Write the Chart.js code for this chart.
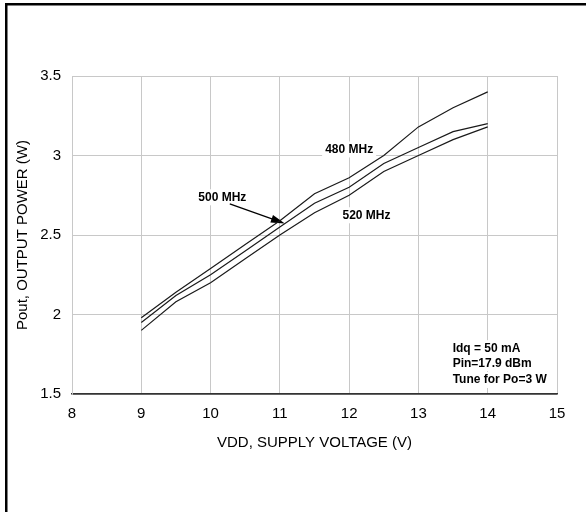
<!DOCTYPE html>
<html>
<head>
<meta charset="utf-8">
<script src="https://cdn.jsdelivr.net/npm/chart.js@4.4.1/dist/chart.umd.min.js"></script>
<style>
  html, body { margin: 0; padding: 0; background: #fff; }
  canvas { display: block; }
</style>
</head>
<body>
<canvas id="grafico" width="586" height="512"></canvas>
<script>
// Datos
const voltajes = [9, 9.5, 10, 10.5, 11, 11.5, 12, 12.5, 13, 13.5, 14];
const pout480 = [1.98, 2.14, 2.29, 2.44, 2.59, 2.76, 2.86, 3.00, 3.18, 3.30, 3.40];
const pout500 = [1.95, 2.12, 2.25, 2.40, 2.55, 2.70, 2.80, 2.95, 3.05, 3.15, 3.20];
const pout520 = [1.90, 2.08, 2.20, 2.35, 2.50, 2.64, 2.75, 2.90, 3.00, 3.10, 3.18];
const ticksX = [8, 9, 10, 11, 12, 13, 14, 15];
const ticksY = [1.5, 2, 2.5, 3, 3.5];
const notas = ['Idq = 50 mA', 'Pin=17.9 dBm', 'Tune for Po=3 W'];

const fuente = '"Liberation Sans", Arial, Helvetica, sans-serif';
const gris = '#c8c8c8';
Chart.defaults.color = '#000';
Chart.defaults.font.family = fuente;

function serie(valores) {
    return {
        data: voltajes.map((v, i) => ({ x: v, y: valores[i] })),
        borderColor: '#1a1a1a',
        borderWidth: 1.2,
        pointRadius: 0,
        tension: 0,
        fill: false
    };
}

// Textos con fondo blanco (tapan la grilla)
function textoConFondo(ctx, texto, x, y, align) {
    ctx.font = 'bold 12px ' + fuente;
    const w = ctx.measureText(texto).width;
    const x0 = align === 'left' ? x : x - w / 2;
    ctx.fillStyle = '#fff';
    ctx.fillRect(x0 - 3, y - 8, w + 6, 16);
    ctx.fillStyle = '#000';
    ctx.textAlign = 'left';
    ctx.textBaseline = 'middle';
    ctx.fillText(texto, x0, y);
}

const anotaciones = {
    id: 'anotaciones',
    beforeDatasetsDraw(chart) {
        const { ctx, scales: { x, y } } = chart;
        ctx.save();
        textoConFondo(ctx, '480 MHz', x.getPixelForValue(12.0), y.getPixelForValue(3.038), 'center');
        textoConFondo(ctx, '500 MHz', x.getPixelForValue(10.17), y.getPixelForValue(2.737), 'center');
        textoConFondo(ctx, '520 MHz', x.getPixelForValue(12.25), y.getPixelForValue(2.624), 'center');
        const ys = [1.788, 1.693, 1.588];
        notas.forEach((t, i) => textoConFondo(ctx, t, x.getPixelForValue(13.494), y.getPixelForValue(ys[i]), 'left'));

        // flecha del 500 MHz
        const x1 = x.getPixelForValue(10.277), y1 = y.getPixelForValue(2.696);
        const x2 = x.getPixelForValue(11.072), y2 = y.getPixelForValue(2.572);
        const ang = Math.atan2(y2 - y1, x2 - x1);
        ctx.strokeStyle = '#000';
        ctx.lineWidth = 1.2;
        ctx.beginPath();
        ctx.moveTo(x1, y1);
        ctx.lineTo(x2 - 10 * Math.cos(ang), y2 - 10 * Math.sin(ang));
        ctx.stroke();
        ctx.fillStyle = '#000';
        ctx.beginPath();
        ctx.moveTo(x2, y2);
        ctx.lineTo(x2 - 14 * Math.cos(ang) + 4 * Math.sin(ang), y2 - 14 * Math.sin(ang) - 4 * Math.cos(ang));
        ctx.lineTo(x2 - 14 * Math.cos(ang) - 4 * Math.sin(ang), y2 - 14 * Math.sin(ang) + 4 * Math.cos(ang));
        ctx.closePath();
        ctx.fill();
        ctx.restore();
    },
    afterDraw(chart) {
        // marco negro de la figura
        const ctx = chart.ctx;
        ctx.save();
        ctx.fillStyle = '#000';
        ctx.fillRect(5, 3, 581, 2.5);
        ctx.fillRect(5, 3, 2.5, 509);
        ctx.restore();
    }
};

new Chart(document.getElementById('grafico'), {
    type: 'line',
    data: {
        datasets: [serie(pout480), serie(pout500), serie(pout520)]
    },
    options: {
        responsive: false,
        animation: false,
        devicePixelRatio: 1,
        layout: { padding: { left: 10, right: 29, top: 76, bottom: 48 } },
        plugins: { legend: { display: false }, tooltip: { enabled: false } },
        scales: {
            x: {
                type: 'linear',
                min: ticksX[0],
                max: ticksX[ticksX.length - 1],
                afterBuildTicks: s => { s.ticks = ticksX.map(v => ({ value: v })); },
                afterFit: s => { s.height = 70; },
                ticks: { font: { size: 15 }, padding: 11, maxRotation: 0, callback: v => String(v) },
                grid: { color: gris, lineWidth: 1, drawTicks: false },
                border: { color: '#333', width: 1.5 },
                title: {
                    display: true,
                    text: 'VDD, SUPPLY VOLTAGE (V)',
                    font: { size: 15 },
                    padding: { top: 0, bottom: 12 }
                }
            },
            y: {
                type: 'linear',
                min: ticksY[0],
                max: ticksY[ticksY.length - 1],
                afterBuildTicks: s => { s.ticks = ticksY.map(v => ({ value: v })); },
                afterFit: s => { s.width = 62; },
                ticks: { font: { size: 15 }, padding: 11, callback: v => String(v) },
                grid: {
                    color: c => (c.tick && c.tick.value === 1.5) ? '#333' : gris,
                    lineWidth: c => (c.tick && c.tick.value === 1.5) ? 1.5 : 1,
                    drawTicks: false
                },
                border: { color: gris, width: 1 },
                title: {
                    display: true,
                    text: 'Pout, OUTPUT POWER (W)',
                    font: { size: 15 },
                    padding: { top: 4, bottom: 0 }
                }
            }
        }
    },
    plugins: [anotaciones]
});
</script>
</body>
</html>
